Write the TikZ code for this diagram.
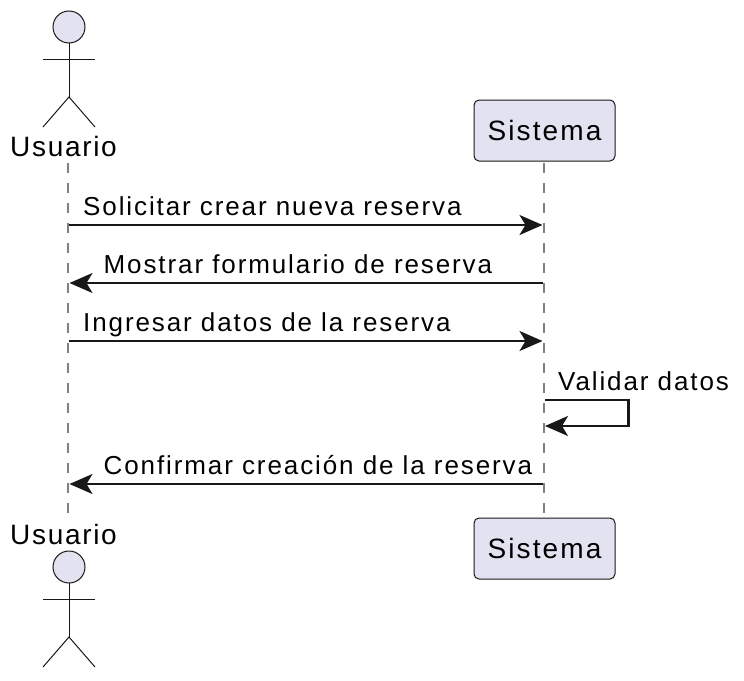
\documentclass[tikz,border=0pt]{standalone}
\usepackage{fontspec}
\setmainfont{Liberation Sans}
\newfontfamily\msgfont[LetterSpace=7.3]{Liberation Sans}
\newfontfamily\actorfont[LetterSpace=6]{Liberation Sans}
\newfontfamily\boxfont[LetterSpace=7.5]{Liberation Sans}
\usetikzlibrary{calc}
\usetikzlibrary{positioning}
\usetikzlibrary{arrows.meta}
\definecolor{partfill}{HTML}{E2E2F0}
\definecolor{partline}{HTML}{181818}
\tikzset{
	partbox/.style={draw=partline, fill=partfill, line width=1pt, rounded corners=5pt, minimum width=141pt, minimum height=61pt, inner sep=0pt, font=\boxfont\fontsize{28}{32}\selectfont},
	actorname/.style={inner sep=0pt, anchor=base, font=\actorfont\fontsize{28}{32}\selectfont},
	msgtext/.style={inner sep=0pt, anchor=base west, font=\msgfont\fontsize{26}{30}\selectfont},
	lifeline/.style={draw=gray, line width=1.8pt, dash pattern=on 10pt off 10pt},
	msg/.style={draw=partline, line width=2.2pt, -{Stealth[length=23pt, width=20pt, inset=6pt]}},
	actorline/.style={draw=partline, line width=1pt},
}
\newcommand{\stickman}[2]{
	\draw[actorline, fill=partfill] (#1, #2) circle (16);
	\draw[actorline] (#1, #2+16) -- (#1, #2+70);
	\draw[actorline] (#1-26, #2+32) -- (#1+26, #2+32);
	\draw[actorline] (#1-26, #2+100) -- (#1, #2+70) -- (#1+26, #2+100);
}
\begin{document}
\begin{tikzpicture}[x=1pt, y=-1pt]
	\useasboundingbox (0, 0) rectangle (744, 680);

	\node[actorname] (UserTop) at (63.5, 156) {Usuario};
	\node[actorname] (UserBottom) at (63.5, 544) {Usuario};
	\node[partbox] (SysTop) at (544.5, 130.5) {Sistema};
	\node[partbox] (SysBottom) at (544.5, 548.5) {Sistema};

	\coordinate (UA) at (68, 163);
	\coordinate (UB) at (68, 514);
	\coordinate (SA) at (544, 163);
	\coordinate (SB) at (544, 514);

	\draw[lifeline] (UA) -- (UB);
	\draw[lifeline] (SA) -- (SB);

	\stickman{69}{27}
	\stickman{69}{567}

	\coordinate (U1) at (69, 225);
	\coordinate (S1) at (542.5, 225);
	\coordinate (S2) at (542.5, 283);
	\coordinate (U2) at (69.5, 283);
	\coordinate (U3) at (69, 341);
	\coordinate (S3) at (542.5, 341);
	\coordinate (S4) at (545, 400);
	\coordinate (R4) at (628.5, 400);
	\coordinate (R5) at (628.5, 426);
	\coordinate (S5) at (545, 426);
	\coordinate (S6) at (542.5, 484);
	\coordinate (U6) at (69.5, 484);

	\draw[msg] (U1) -- (S1);
	\draw[msg] (S2) -- (U2);
	\draw[msg] (U3) -- (S3);
	\draw[msg] (S4) -- (R4) -- (R5) -- (S5);
	\draw[msg] (S6) -- (U6);

	\node[msgtext] (M1) at (83, 215) {Solicitar crear nueva reserva};
	\node[msgtext] (M2) at (103.5, 273) {Mostrar formulario de reserva};
	\node[msgtext] (M3) at (83, 331) {Ingresar datos de la reserva};
	\node[msgtext] (M4) at (558, 390) {Validar datos};
	\node[msgtext] (M5) at (103.5, 474) {Confirmar creación de la reserva};
\end{tikzpicture}
\end{document}
